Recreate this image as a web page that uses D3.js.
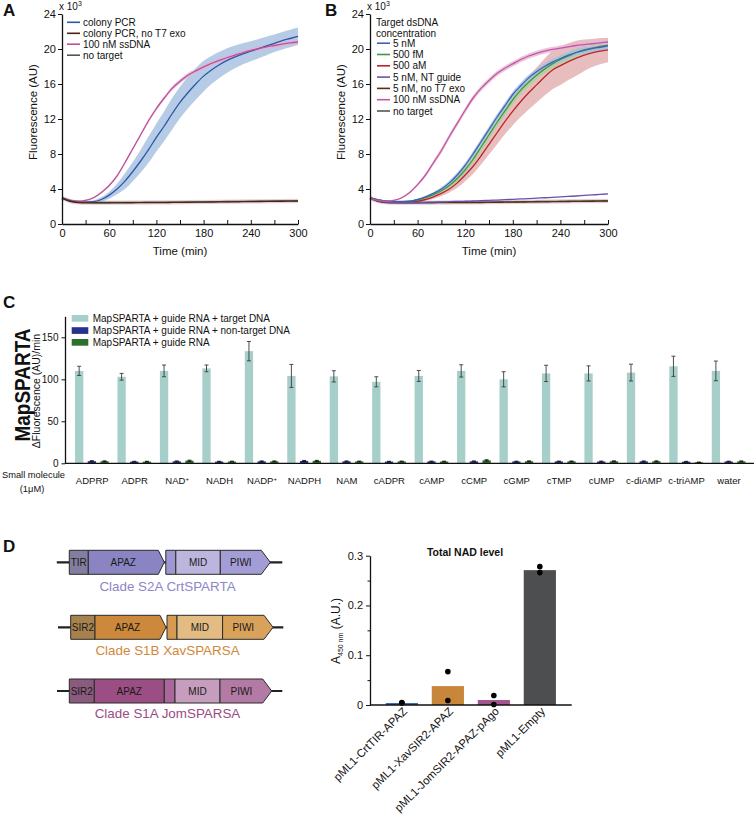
<!DOCTYPE html>
<html>
<head>
<meta charset="utf-8">
<script src="https://cdn.jsdelivr.net/npm/d3@7/dist/d3.min.js"></script>
<style>
html,body{margin:0;padding:0;background:#fff;}
svg{display:block;font-family:"Liberation Sans",Arial,Helvetica,sans-serif;}
</style>
</head>
<body>
<svg id="fig" width="756" height="816"></svg>
<script>
// ================= DATA =================
const timeMin = [0,10,20,30,40,50,60,70,80,90,100,110,120,130,140,150,160,170,180,190,200,210,220,230,240,250,260,270,280,290,300];
const yTicksFluor = [0,4,8,12,16,20,24];
const xTicksTime = [0,30,60,90,120,150,180,210,240,270,300];
const xLabelsTime = [0,60,120,180,240,300];

// Panel A (fluorescence, x10^3 AU)
const aNames = ["colony PCR","colony PCR, no T7 exo","100 nM ssDNA","no target"];
const aColonyPCR   = [3.0,2.7,2.55,2.5,2.55,2.8,3.3,4.0,4.9,6.0,7.2,8.5,9.9,11.2,12.6,13.9,15.0,16.0,16.9,17.6,18.2,18.7,19.1,19.45,19.75,20.05,20.35,20.65,20.95,21.2,21.45];
const aColonyPCRsd = [0.15,0.12,0.1,0.1,0.15,0.25,0.4,0.6,0.9,1.1,1.3,1.5,1.6,1.7,1.8,1.8,1.8,1.8,1.75,1.6,1.5,1.4,1.3,1.2,1.15,1.1,1.05,1.0,1.0,1.0,1.0];
const aNoT7        = [2.95,2.6,2.45,2.42,2.42,2.42,2.42,2.42,2.43,2.43,2.44,2.44,2.45,2.45,2.46,2.47,2.48,2.49,2.5,2.51,2.52,2.53,2.54,2.55,2.56,2.57,2.58,2.59,2.6,2.61,2.62];
const aSsDNA       = [2.9,2.7,2.6,2.7,3.0,3.6,4.4,5.5,7.0,8.6,10.2,11.8,13.2,14.4,15.5,16.3,17.0,17.5,17.95,18.35,18.7,19.0,19.3,19.6,19.85,20.05,20.25,20.4,20.55,20.7,20.8];
const aSsDNAsd     = [0.15,0.12,0.1,0.1,0.1,0.1,0.12,0.15,0.15,0.15,0.15,0.2,0.2,0.2,0.25,0.25,0.25,0.25,0.25,0.25,0.25,0.25,0.25,0.25,0.25,0.25,0.25,0.25,0.25,0.25,0.25];
const aNoTarget    = [3.0,2.65,2.5,2.47,2.46,2.46,2.46,2.47,2.47,2.48,2.48,2.49,2.49,2.5,2.5,2.51,2.52,2.53,2.54,2.55,2.56,2.57,2.58,2.59,2.6,2.61,2.62,2.63,2.64,2.65,2.66];

// Panel B
const bLegendTitle = ["Target dsDNA","concentration"];
const bNames = ["5 nM","500 fM","500 aM","5 nM, NT guide","5 nM, no T7 exo","100 nM ssDNA","no target"];
const b5nM      = [3.0,2.75,2.6,2.55,2.55,2.6,2.8,3.1,3.5,4.0,4.7,5.6,6.7,8.0,9.4,10.8,12.2,13.5,14.8,15.8,16.7,17.4,18.0,18.5,18.9,19.3,19.6,19.85,20.05,20.2,20.35];
const b5nMsd    = [0.1,0.1,0.1,0.1,0.1,0.1,0.1,0.12,0.15,0.2,0.25,0.3,0.3,0.35,0.35,0.35,0.35,0.35,0.35,0.35,0.35,0.35,0.35,0.35,0.35,0.35,0.35,0.35,0.35,0.35,0.35];
const b500fM    = [3.0,2.75,2.6,2.55,2.55,2.58,2.75,3.0,3.35,3.8,4.4,5.2,6.2,7.4,8.8,10.2,11.6,12.9,14.2,15.3,16.2,17.0,17.7,18.3,18.8,19.2,19.6,19.9,20.1,20.3,20.45];
const b500fMsd  = [0.1,0.1,0.1,0.1,0.1,0.1,0.1,0.12,0.15,0.2,0.3,0.35,0.4,0.45,0.5,0.5,0.5,0.5,0.5,0.5,0.5,0.5,0.5,0.5,0.5,0.5,0.5,0.5,0.5,0.5,0.5];
const b500aM    = [3.0,2.75,2.6,2.55,2.52,2.52,2.6,2.8,3.1,3.5,4.0,4.7,5.6,6.6,7.8,9.1,10.4,11.7,12.9,14.0,15.0,15.9,16.8,17.6,18.1,18.55,18.95,19.3,19.55,19.75,19.9];
const b500aMsd  = [0.1,0.1,0.1,0.1,0.1,0.1,0.12,0.15,0.2,0.3,0.4,0.55,0.7,0.85,1.0,1.15,1.3,1.45,1.6,1.75,1.9,2.0,2.1,2.2,2.2,2.1,2.0,1.8,1.6,1.5,1.4];
const bNTguide  = [2.95,2.65,2.5,2.45,2.45,2.45,2.46,2.48,2.5,2.52,2.55,2.58,2.6,2.63,2.66,2.7,2.74,2.78,2.82,2.86,2.9,2.95,3.0,3.05,3.1,3.15,3.2,3.26,3.32,3.38,3.45];
const bNoT7     = [2.95,2.6,2.45,2.42,2.42,2.42,2.42,2.43,2.43,2.44,2.44,2.45,2.45,2.46,2.46,2.47,2.48,2.49,2.5,2.51,2.52,2.53,2.54,2.55,2.56,2.57,2.58,2.59,2.6,2.61,2.62];
const bSsDNA    = [2.9,2.7,2.6,2.7,3.0,3.6,4.5,5.6,7.0,8.4,10.0,11.5,13.0,14.4,15.5,16.4,17.2,17.8,18.3,18.8,19.2,19.5,19.75,19.95,20.1,20.25,20.4,20.5,20.6,20.7,20.8];
const bSsDNAsd  = [0.15,0.12,0.1,0.1,0.1,0.12,0.15,0.2,0.25,0.3,0.3,0.3,0.3,0.3,0.3,0.3,0.3,0.3,0.3,0.3,0.3,0.3,0.3,0.3,0.3,0.3,0.3,0.3,0.3,0.3,0.3];
const bNoTarget = [3.0,2.65,2.5,2.47,2.46,2.46,2.46,2.47,2.47,2.48,2.48,2.49,2.49,2.5,2.5,2.51,2.52,2.53,2.54,2.55,2.56,2.57,2.58,2.59,2.6,2.61,2.62,2.63,2.64,2.65,2.66];

// Panel C
const cCategories = ["ADPRP","ADPR","NAD+","NADH","NADP+","NADPH","NAM","cADPR","cAMP","cCMP","cGMP","cTMP","cUMP","c-diAMP","c-triAMP","water"];
const cSeries = ["MapSPARTA + guide RNA + target DNA","MapSPARTA + guide RNA + non-target DNA","MapSPARTA + guide RNA"];
const cTarget       = [110,103,110,113,133.5,104,103.5,97,104,110,100,107,107,108,115.5,110];
const cTargetErr    = [5.5,4,7,4,11.5,13.7,6.7,6,6.5,7.3,9,9.7,9,10,12,11.7];
const cNonTarget    = [2.5,2.0,2.3,2.0,2.3,2.8,2.3,2.0,2.2,2.3,2.1,2.2,2.1,2.3,1.9,2.1];
const cNonTargetErr = [0.6,0.4,0.5,0.4,0.5,0.6,0.5,0.4,0.4,0.5,0.4,0.4,0.5,0.5,0.4,0.4];
const cGuideOnly    = [2.4,2.0,3.1,2.1,2.3,2.9,2.2,2.2,2.1,3.5,2.4,2.3,2.4,2.4,1.2,2.3];
const cGuideOnlyErr = [0.5,0.4,0.6,0.4,0.5,0.6,0.4,0.4,0.4,0.7,0.5,0.4,0.5,0.5,0.3,0.5];
const cYTicks = [0,50,100,150];

// Panel D – domain architectures (arbitrary length units)
const geneConstructs = ["Clade S2A CrtSPARTA","Clade S1B XavSPARSA","Clade S1A JomSPARSA"];
const geneDomainNames = [
  ["TIR","APAZ","","MID","PIWI"],
  ["SIR2","APAZ","","MID","PIWI"],
  ["SIR2","APAZ","","MID","PIWI"]
];
const geneDomainStart = [
  [0,19,96.5,106.5,151],
  [1.4,25.7,97.7,107.7,153.3],
  [0,25,95,105.7,150.7]
];
const geneDomainEnd = [
  [19,95,106.5,151,201],
  [25.7,96.7,107.7,153.3,203.7],
  [25,95,105.7,150.7,202.4]
];
const geneLineExtent = [[-12.5,213],[-11.3,214],[-12.3,213]];

// Panel D – NAD bar chart
const dStrains = ["pML1-CrtTIR-APAZ","pML1-XavSIR2-APAZ","pML1-JomSIR2-APAZ-pAgo","pML1-Empty"];
const dMeans = [0.004,0.038,0.010,0.271];
const dReplicates = [[0.005,0.004],[0.067,0.009],[0.019,0.001],[0.278,0.266]];
const dYTicks = [0,0.1,0.2,0.3];
const dYMinor = [0.05,0.15,0.25];

// ================= DRAWING =================
const svg = d3.select("#fig");
const FONT = '"Liberation Sans", Arial, Helvetica, sans-serif';

function panelLabel(t, x, y) {
  svg.append("text").attr("x", x).attr("y", y).attr("font-size", 17)
     .attr("font-weight", "bold").attr("fill", "#111").text(t);
}
function styleAxis(g, fs) {
  g.attr("font-family", FONT).attr("font-size", fs);
  g.selectAll("path.domain").attr("stroke", "#111").attr("stroke-width", 1.3);
  g.selectAll(".tick line").attr("stroke", "#111").attr("stroke-width", 1);
  g.selectAll(".tick text").attr("fill", "#111");
}

function drawCurvePanel(cfg) {
  const g = svg.append("g");
  const x = d3.scaleLinear().domain([0, 300]).range([cfg.x0, cfg.x1]);
  const y = d3.scaleLinear().domain([0, 24]).range([224, 14]);

  cfg.series.filter(s => s.sd).forEach(s => {
    const area = d3.area().curve(d3.curveMonotoneX)
      .x((d, i) => x(timeMin[i]))
      .y0((d, i) => y(d - s.sd[i]))
      .y1((d, i) => y(d + s.sd[i]));
    g.append("path").datum(s.values).attr("d", area)
      .attr("fill", s.band).attr("fill-opacity", s.bandOpacity);
  });
  const line = d3.line().curve(d3.curveMonotoneX)
    .x((d, i) => x(timeMin[i])).y(d => y(d));
  cfg.series.filter(s => s.halo).forEach(s => {
    g.append("path").datum(s.values).attr("d", line).attr("fill", "none")
      .attr("stroke", s.halo).attr("stroke-opacity", 0.35).attr("stroke-width", 4);
  });
  cfg.series.forEach(s => {
    g.append("path").datum(s.values).attr("d", line).attr("fill", "none")
      .attr("stroke", s.color).attr("stroke-width", 1.3);
  });

  const ay = g.append("g").attr("transform", `translate(${cfg.x0},0)`)
    .call(d3.axisLeft(y).tickValues(yTicksFluor).tickSizeInner(4).tickSizeOuter(0).tickPadding(2).tickFormat(d3.format("d")));
  styleAxis(ay, 11);
  const ax = g.append("g").attr("transform", `translate(0,224)`)
    .call(d3.axisBottom(x).tickValues(xTicksTime).tickSizeInner(-4).tickSizeOuter(0).tickPadding(5)
      .tickFormat(d => xLabelsTime.includes(d) ? d : ""));
  styleAxis(ax, 11);

  const ex = g.append("text").attr("x", cfg.x0 - 3).attr("y", 10).attr("font-size", 10).attr("fill", "#111").text("x 10");
  ex.append("tspan").attr("font-size", 7).attr("dy", -4).text("3");

  g.append("g").attr("transform", `translate(${cfg.x0 - 25},112)`)
    .append("text").attr("transform", "rotate(-90)")
    .attr("text-anchor", "middle").attr("font-size", 11.5).attr("fill", "#111").text("Fluorescence (AU)");
  g.append("text").attr("x", (cfg.x0 + cfg.x1) / 2).attr("y", 255)
    .attr("text-anchor", "middle").attr("font-size", 11.5).attr("fill", "#111").text("Time (min)");

  const lg = g.append("g");
  (cfg.legendTitle || []).forEach((t, i) => {
    lg.append("text").attr("x", cfg.legX).attr("y", cfg.legTitleY[i] + 3.6)
      .attr("font-size", 10).attr("fill", "#111").text(t);
  });
  cfg.legendItems.forEach((s, i) => {
    const yy = cfg.legY[i];
    lg.append("line").attr("x1", cfg.legX + 1).attr("x2", cfg.legX + cfg.legLen)
      .attr("y1", yy).attr("y2", yy).attr("stroke", s.color).attr("stroke-width", 1.6);
    lg.append("text").attr("x", cfg.legX + cfg.legLen + 3).attr("y", yy + 3.6)
      .attr("font-size", 10).attr("fill", "#111").text(s.name);
  });
}

// ---- Panel A
panelLabel("A", 3, 16);
{
  const sColony = {name: aNames[0], values: aColonyPCR, sd: aColonyPCRsd, color: "#2e58a6", band: "#a9c2e2", bandOpacity: 0.85};
  const sNoT7 = {name: aNames[1], values: aNoT7, color: "#4b2417", halo: "#c9a0a8"};
  const sSs = {name: aNames[2], values: aSsDNA, sd: aSsDNAsd, color: "#c0509b", band: "#e2b3d3", bandOpacity: 0.8};
  const sNone = {name: aNames[3], values: aNoTarget, color: "#555555", halo: "#bbbbbb"};
  drawCurvePanel({
    x0: 62, x1: 298,
    series: [sColony, sSs, sNone, sNoT7],
    legendItems: [sColony, sNoT7, sSs, sNone],
    legX: 66, legLen: 14, legY: [22.3, 33.3, 44.2, 55.2]
  });
}

// ---- Panel B
panelLabel("B", 325, 16);
{
  const s5 = {name: bNames[0], values: b5nM, sd: b5nMsd, color: "#3b63b5", band: "#a6bde3", bandOpacity: 0.8};
  const s500f = {name: bNames[1], values: b500fM, sd: b500fMsd, color: "#3f9a3c", band: "#a9d2a2", bandOpacity: 0.75};
  const s500a = {name: bNames[2], values: b500aM, sd: b500aMsd, color: "#be232b", band: "#dfa7a7", bandOpacity: 0.75};
  const sNT = {name: bNames[3], values: bNTguide, color: "#6a4fb2"};
  const sNoT7 = {name: bNames[4], values: bNoT7, color: "#5a2a1a", halo: "#c9a0a8"};
  const sSs = {name: bNames[5], values: bSsDNA, sd: bSsDNAsd, color: "#c4579f", band: "#e6b7d8", bandOpacity: 0.8};
  const sNone = {name: bNames[6], values: bNoTarget, color: "#555555", halo: "#bbbbbb"};
  drawCurvePanel({
    x0: 370, x1: 608,
    series: [s500a, s500f, s5, sNone, sNoT7, sNT, sSs],
    legendItems: [s5, s500f, s500a, sNT, sNoT7, sSs, sNone],
    legendTitle: bLegendTitle, legTitleY: [22.7, 33.5],
    legX: 376, legLen: 14, legY: [43.2, 54.5, 65.8, 77.1, 88.4, 99.7, 111]
  });
}

// ---- Panel C
panelLabel("C", 3, 308);
{
  const g = svg.append("g");
  const y = d3.scaleLinear().domain([0, 175]).range([463.3, 316.3]);
  const x0 = d3.scaleBand().domain(cCategories).range([73, 73 + 16 * 42.45]).padding(0);
  const x1 = d3.scaleBand().domain(cSeries).range([2, 35.7]).paddingInner(0.346).paddingOuter(0);
  const colors = ["#a7cfc9", "#27328f", "#2e6f2c"];
  const vals = [cTarget, cNonTarget, cGuideOnly];
  const errs = [cTargetErr, cNonTargetErr, cGuideOnlyErr];

  cSeries.forEach((s, si) => {
    cCategories.forEach((c, ci) => {
      const v = vals[si][ci], e = errs[si][ci];
      const bx = x0(c) + x1(s), bw = x1.bandwidth();
      g.append("rect").attr("x", bx).attr("y", y(v)).attr("width", bw)
        .attr("height", y(0) - y(v)).attr("fill", colors[si]);
      const cx = bx + bw / 2;
      const ec = si === 0 ? "#3a3a3a" : "#111";
      g.append("line").attr("x1", cx).attr("x2", cx).attr("y1", y(v - e)).attr("y2", y(v + e))
        .attr("stroke", ec).attr("stroke-width", 0.9);
      [v - e, v + e].forEach(t => {
        g.append("line").attr("x1", cx - 2).attr("x2", cx + 2).attr("y1", y(t)).attr("y2", y(t))
          .attr("stroke", ec).attr("stroke-width", 0.9);
      });
    });
  });

  const ay = g.append("g").attr("transform", "translate(65,0)")
    .call(d3.axisLeft(y).tickValues(cYTicks).tickSizeInner(3.5).tickSizeOuter(0).tickPadding(3));
  styleAxis(ay, 10);
  g.append("line").attr("x1", 65).attr("x2", 754).attr("y1", y(0)).attr("y2", y(0))
    .attr("stroke", "#111").attr("stroke-width", 1.3);

  cCategories.forEach(c => {
    const t = g.append("text").attr("x", x0(c) + x0.bandwidth() / 2 - 2).attr("y", 484)
      .attr("text-anchor", "middle").attr("font-size", 9.5).attr("fill", "#111");
    if (c.endsWith("+")) {
      t.text(c.slice(0, -1));
      t.append("tspan").attr("font-size", 6).attr("dy", -3.5).text("+");
    } else t.text(c);
  });
  g.append("text").attr("x", 2).attr("y", 477.5).attr("font-size", 9.3).attr("fill", "#111").text("Small molecule");
  g.append("text").attr("x", 32).attr("y", 491.5).attr("text-anchor", "middle").attr("font-size", 9.3).attr("fill", "#111").text("(1μM)");

  g.append("g").attr("transform", "translate(30,385)")
    .append("text").attr("transform", "rotate(-90)").attr("text-anchor", "middle")
    .attr("font-size", 22).attr("font-weight", "bold").attr("fill", "#111")
    .attr("textLength", 113).attr("lengthAdjust", "spacingAndGlyphs").text("MapSPARTA");
  g.append("g").attr("transform", "translate(40,391)")
    .append("text").attr("transform", "rotate(-90)").attr("text-anchor", "middle")
    .attr("font-size", 10.5).attr("fill", "#111").text("ΔFluorescence (AU)/min");

  const legY = [318.3, 330.5, 342.3];
  cSeries.forEach((s, i) => {
    g.append("rect").attr("x", 71.7).attr("y", legY[i] - 3.3).attr("width", 16.6).attr("height", 6.7).attr("fill", colors[i]);
    g.append("text").attr("x", 92.7).attr("y", legY[i] + 3.5).attr("font-size", 10).attr("fill", "#111").text(s);
  });
}

// ---- Panel D (gene diagrams)
panelLabel("D", 3, 552);
{
  const g = svg.append("g");
  const rowBaseX = [69.3, 69.3, 69.3];
  const rowCenterY = [562.3, 627.3, 691];
  const labelY = [591, 655, 718];
  const labelColors = ["#8d86c8", "#d0883a", "#9a4b84"];
  const fills = [
    ["#837e9f", "#8a84c3", "#9d97d2", "#bcb6df", "#a39dd5"],
    ["#a7824f", "#cc883b", "#d69a50", "#e3bc84", "#d9a25b"],
    ["#8b5b7f", "#9b4e84", "#a9679b", "#c69dbd", "#b37aa5"]
  ];
  const arrowHeads = [[0, 6, 0, 0, 9], [0, 6, 0, 0, 9], [0, 0, 0, 0, 9]];
  const h = 24;
  geneConstructs.forEach((name, r) => {
    const sx = d3.scaleLinear().domain([0, 200]).range([rowBaseX[r], rowBaseX[r] + 200]);
    const cy = rowCenterY[r];
    g.append("line").attr("x1", sx(geneLineExtent[r][0])).attr("x2", sx(geneLineExtent[r][1]))
      .attr("y1", cy).attr("y2", cy).attr("stroke", "#222").attr("stroke-width", 2.2);
    geneDomainNames[r].forEach((dn, k) => {
      const a = sx(geneDomainStart[r][k]), b = sx(geneDomainEnd[r][k]);
      const ah = arrowHeads[r][k];
      const top = cy - h / 2, bot = cy + h / 2;
      const pts = ah > 0
        ? [[a, top], [b - ah, top], [b, cy], [b - ah, bot], [a, bot]]
        : [[a, top], [b, top], [b, bot], [a, bot]];
      g.append("path").attr("d", d3.line()(pts) + "Z").attr("fill", fills[r][k])
        .attr("stroke", "#2a2a2a").attr("stroke-width", 1);
      if (dn) {
        g.append("text").attr("x", (a + b - ah) / 2).attr("y", cy + 3.6).attr("text-anchor", "middle")
          .attr("font-size", 10).attr("fill", "#1a1a1a").text(dn);
      }
    });
    g.append("text").attr("x", 167.5).attr("y", labelY[r]).attr("text-anchor", "middle")
      .attr("font-size", 13.4).attr("fill", labelColors[r]).text(name);
  });
}

// ---- Panel D (NAD bar chart)
{
  const g = svg.append("g");
  const y = d3.scaleLinear().domain([0, 0.3]).range([705, 555.7]);
  const x = d3.scaleBand().domain(dStrains).range([370, 571.7]).paddingInner(0.3).paddingOuter(0.343);
  const colors = ["#3d6cb2", "#c8863a", "#a3548f", "#4d4e50"];
  dStrains.forEach((s, i) => {
    g.append("rect").attr("x", x(s)).attr("y", y(dMeans[i])).attr("width", x.bandwidth())
      .attr("height", y(0) - y(dMeans[i])).attr("fill", colors[i]);
  });
  dStrains.forEach((s, i) => {
    dReplicates[i].forEach(v => {
      g.append("circle").attr("cx", x(s) + x.bandwidth() / 2).attr("cy", y(v)).attr("r", 2.8).attr("fill", "#000");
    });
  });
  const ay = g.append("g").attr("transform", "translate(370,0)")
    .call(d3.axisLeft(y).tickValues(dYTicks).tickSizeInner(4).tickSizeOuter(0).tickPadding(3)
      .tickFormat(d => d === 0 ? "0" : d3.format(".1f")(d)));
  styleAxis(ay, 11);
  const am = g.append("g").attr("transform", "translate(370,0)")
    .call(d3.axisLeft(y).tickValues(dYMinor).tickSizeInner(2.5).tickSizeOuter(0).tickFormat(""));
  styleAxis(am, 11);
  am.select("path.domain").remove();
  g.append("line").attr("x1", 370).attr("x2", 571.7).attr("y1", y(0)).attr("y2", y(0))
    .attr("stroke", "#111").attr("stroke-width", 1.3);

  dStrains.forEach(s => {
    const cx = x(s) + x.bandwidth() / 2;
    g.append("text").attr("transform", `translate(${cx + 6},712) rotate(-45)`)
      .attr("text-anchor", "end").attr("font-size", 11.4).attr("fill", "#111").text(s);
  });
  g.append("text").attr("x", 465).attr("y", 555.5).attr("text-anchor", "middle")
    .attr("font-size", 10.5).attr("font-weight", "bold").attr("fill", "#111").text("Total NAD level");
  const yl = g.append("g").attr("transform", "translate(340,631)")
    .append("text").attr("transform", "rotate(-90)")
    .attr("text-anchor", "middle").attr("font-size", 12).attr("fill", "#111");
  yl.append("tspan").text("A");
  yl.append("tspan").attr("font-size", 7).attr("dy", 3).text("450 nm");
  yl.append("tspan").attr("dy", -3).text(" (A.U.)");
}
</script>
</body>
</html>
